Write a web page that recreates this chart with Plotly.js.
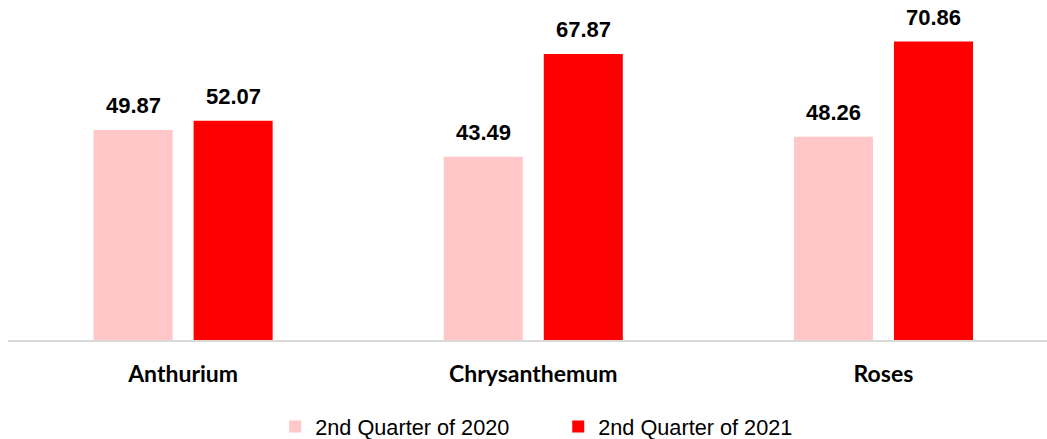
<!DOCTYPE html>
<html>
<head>
<meta charset="utf-8">
<script src="https://cdn.plot.ly/plotly-3.0.1.min.js"></script>
<style>html,body{margin:0;padding:0;background:#fff;}#chart{width:1047px;height:439px;}</style>
</head>
<body>
<div id="chart"></div>
<script>
const categories = ["Anthurium", "Chrysanthemum", "Roses"];
const seriesNames = ["2nd Quarter of 2020", "2nd Quarter of 2021"];
const values2020 = [49.87, 43.49, 48.26];
const values2021 = [52.07, 67.87, 70.86];
const colors = ["#FFC7C7", "#FF0000"];
const seriesValues = [values2020, values2021];

const bargap = 0.4286;
const nSeries = seriesValues.length;
const slot = (1 - bargap) / nSeries;

const labelFont = {family: "Liberation Sans, Arial, sans-serif", size: 22, color: "#000", weight: "bold"};

const traces = seriesValues.map((vals, i) => ({
  type: "bar",
  name: seriesNames[i],
  x: categories,
  y: vals,
  marker: {color: colors[i]},
  hoverinfo: "none"
}));

// value labels above each bar, placed at the bar centres of the group
const annotations = [];
seriesValues.forEach((vals, i) => {
  const offset = (i - (nSeries - 1) / 2) * slot;
  vals.forEach((v, j) => {
    annotations.push({
      xref: "x", yref: "y",
      x: j + offset, y: v,
      text: v.toFixed(2),
      showarrow: false,
      xanchor: "center", yanchor: "bottom",
      yshift: 10,
      font: labelFont
    });
  });
});

const layout = {
  width: 1047,
  height: 439,
  margin: {l: 8, r: 0, t: 3, b: 99, autoexpand: false},
  paper_bgcolor: "#fff",
  plot_bgcolor: "#fff",
  barmode: "group",
  bargap: bargap,
  bargroupgap: 0.21,
  showlegend: true,
  legend: {
    orientation: "h",
    x: 0.2572, xanchor: "left",
    y: -0.258, yanchor: "middle",
    entrywidth: 238,
    entrywidthmode: "pixels",
    font: {family: "Liberation Sans, Arial, sans-serif", size: 21.7, color: "#000"},
    traceorder: "normal"
  },
  annotations: annotations,
  xaxis: {
    range: [-0.5, 2.467],
    showline: true,
    linecolor: "#D9D9D9",
    linewidth: 1.5,
    ticks: "",
    showgrid: false,
    zeroline: false,
    tickfont: {family: "Lato, Carlito, Calibri, sans-serif", size: 23, color: "#000", weight: "bold"},
    ticklabelstandoff: 13
  },
  yaxis: {
    range: [0, 80],
    visible: false,
    showgrid: false,
    zeroline: false
  }
};

Plotly.newPlot("chart", traces, layout, {staticPlot: true, displayModeBar: false});
</script>
</body>
</html>
